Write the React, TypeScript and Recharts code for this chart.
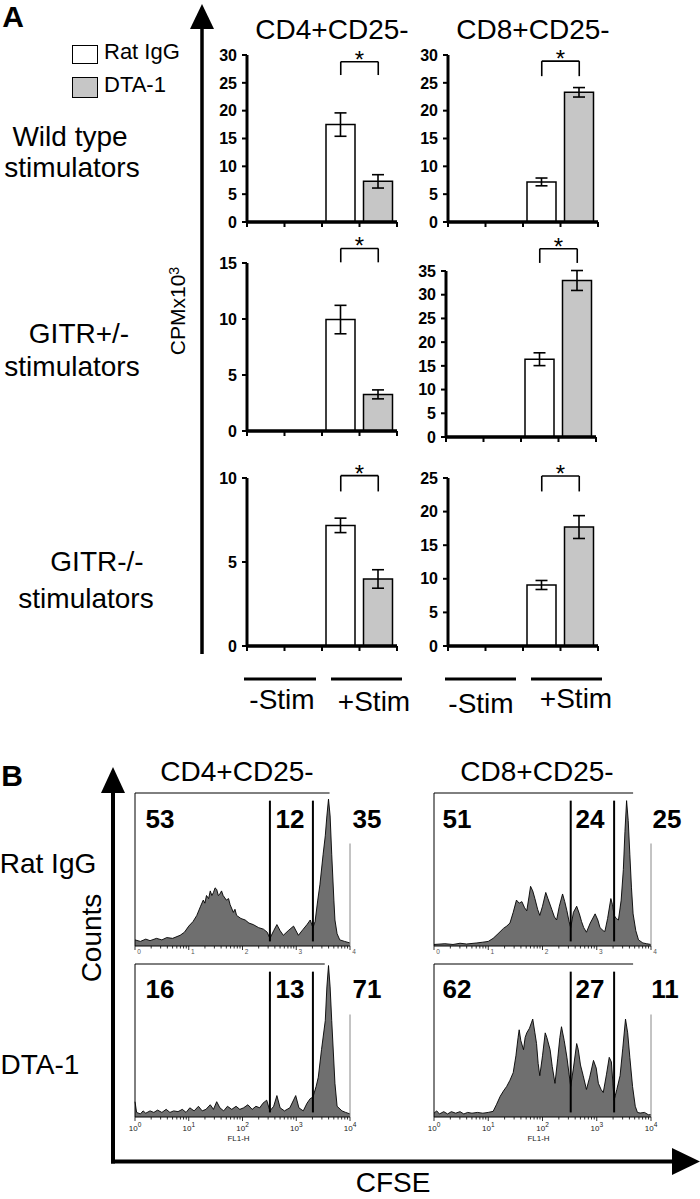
import React from 'react';
import { BarChart, Bar, XAxis, YAxis, Cell, ErrorBar, ReferenceLine, AreaChart, Area } from 'recharts';

const FONT = '"Liberation Sans", Arial, Helvetica, sans-serif';

// ---------- Panel A data ----------
const barCategories = ['-Stim Rat IgG', '-Stim DTA-1', '+Stim Rat IgG', '+Stim DTA-1'];
const barTreatment = ['Rat IgG', 'DTA-1', 'Rat IgG', 'DTA-1'];

const cd4WildMean = [0, 0, 17.5, 7.3];
const cd4WildErr = [0, 0, 2.1, 1.2];
const cd8WildMean = [0, 0, 7.2, 23.3];
const cd8WildErr = [0, 0, 0.7, 0.85];
const cd4HetMean = [0, 0, 9.95, 3.27];
const cd4HetErr = [0, 0, 1.27, 0.4];
const cd8HetMean = [0, 0, 16.4, 33.0];
const cd8HetErr = [0, 0, 1.35, 2.1];
const cd4KoMean = [0, 0, 7.18, 3.99];
const cd4KoErr = [0, 0, 0.43, 0.55];
const cd8KoMean = [0, 0, 9.08, 17.7];
const cd8KoErr = [0, 0, 0.67, 1.7];

const ticks30 = [0, 5, 10, 15, 20, 25, 30];
const ticks15 = [0, 5, 10, 15];
const ticks35 = [0, 5, 10, 15, 20, 25, 30, 35];
const ticks10 = [0, 5, 10];
const ticks25 = [0, 5, 10, 15, 20, 25];

// significance bracket [top, leg end] in CPM x10^3
const cd4WildBracket = [28.8, 26.4];
const cd8WildBracket = [28.9, 26.2];
const cd4HetBracket = [16.3, 15.06];
const cd8HetBracket = [39.7, 36.7];
const cd4KoBracket = [10.14, 9.2];
const cd8KoBracket = [25.3, 23.0];

// ---------- Panel B data (log10 FL1-H vs relative counts) ----------
const cd4RatLog = [0, 0.1, 0.2, 0.28, 0.4, 0.5, 0.59, 0.7, 0.84, 0.92, 1.0, 1.08, 1.15, 1.22, 1.27, 1.3, 1.33, 1.37, 1.4, 1.43, 1.46, 1.49, 1.52, 1.55, 1.58, 1.61, 1.64, 1.7, 1.74, 1.77, 1.83, 1.86, 1.89, 1.97, 2.05, 2.12, 2.2, 2.3, 2.39, 2.46, 2.51, 2.58, 2.64, 2.7, 2.76, 2.85, 2.95, 3.04, 3.13, 3.2, 3.26, 3.31, 3.35, 3.4, 3.44, 3.5, 3.54, 3.57, 3.6, 3.63, 3.66, 3.7, 3.72, 3.76, 3.81, 3.9, 4.0];
const cd4RatCounts = [4, 3, 4.5, 3.5, 5, 4, 5.5, 5, 7, 9, 13, 16, 20, 26, 30, 28, 33, 31, 36, 33, 35, 38, 37, 33, 34, 36, 33, 30, 31, 27, 22, 24, 20, 18, 17, 15, 14, 12, 11, 9, 5, 10, 14, 10, 7, 10, 13, 7, 11, 14, 17, 12, 16, 30, 40, 60, 72, 85, 96, 85, 60, 30, 17, 8, 4, 3, 2];

const cd8RatLog = [0, 0.2, 0.35, 0.48, 0.6, 0.79, 0.9, 1.0, 1.09, 1.18, 1.28, 1.34, 1.4, 1.46, 1.52, 1.57, 1.62, 1.67, 1.71, 1.75, 1.78, 1.82, 1.86, 1.91, 1.95, 2.0, 2.06, 2.1, 2.17, 2.22, 2.26, 2.31, 2.37, 2.41, 2.45, 2.49, 2.52, 2.57, 2.63, 2.68, 2.72, 2.76, 2.81, 2.88, 2.97, 3.02, 3.06, 3.12, 3.15, 3.2, 3.26, 3.29, 3.32, 3.36, 3.4, 3.45, 3.49, 3.52, 3.55, 3.58, 3.61, 3.64, 3.67, 3.72, 3.77, 3.85, 3.92, 4.0];
const cd8RatCounts = [1, 1.5, 1, 1.8, 1.3, 2, 2.5, 3, 5, 8, 11.5, 13, 15, 22, 30, 28, 29, 25, 23, 32, 39, 36, 31, 24, 20, 26, 35, 31, 24, 19, 17, 26, 34, 29, 23, 16, 12, 22, 26, 21, 16, 12, 9, 15, 21, 17, 12, 10, 9.5, 18, 31, 27, 20, 18, 17, 30, 50, 75, 95, 82, 60, 38, 21, 10, 4, 2, 1.5, 1];

const cd4DtaLog = [0, 0.03, 0.1, 0.15, 0.2, 0.28, 0.35, 0.42, 0.5, 0.58, 0.65, 0.72, 0.8, 0.88, 0.95, 1.02, 1.1, 1.18, 1.25, 1.32, 1.4, 1.46, 1.52, 1.58, 1.65, 1.72, 1.8, 1.88, 1.95, 2.02, 2.1, 2.18, 2.25, 2.32, 2.38, 2.45, 2.51, 2.58, 2.64, 2.7, 2.78, 2.88, 2.99, 3.05, 3.13, 3.2, 3.26, 3.31, 3.37, 3.41, 3.47, 3.54, 3.57, 3.6, 3.63, 3.66, 3.72, 3.76, 3.85, 3.92, 4.0];
const cd4DtaCounts = [10, 3, 2, 4, 2.5, 4, 3, 4.5, 3, 5, 3, 4, 3.5, 5, 3, 6, 4, 7, 4, 5, 8, 5, 10, 6, 4, 7, 5, 7, 5, 6, 8, 5, 7, 6, 9, 11, 4, 7, 14, 6, 4, 6, 14, 6, 4, 9, 12, 13, 20, 26, 44, 63, 85, 99, 85, 63, 22, 7, 4, 3, 2];

const cd8DtaLog = [0, 0.05, 0.1, 0.18, 0.25, 0.32, 0.4, 0.48, 0.55, 0.62, 0.7, 0.8, 0.9, 1.0, 1.09, 1.15, 1.22, 1.28, 1.34, 1.4, 1.46, 1.51, 1.55, 1.57, 1.6, 1.65, 1.68, 1.71, 1.76, 1.8, 1.82, 1.86, 1.89, 1.92, 1.95, 2.0, 2.05, 2.08, 2.14, 2.18, 2.23, 2.28, 2.32, 2.35, 2.4, 2.45, 2.49, 2.52, 2.57, 2.63, 2.66, 2.7, 2.75, 2.81, 2.87, 2.94, 2.99, 3.03, 3.08, 3.12, 3.18, 3.23, 3.27, 3.32, 3.37, 3.43, 3.48, 3.53, 3.57, 3.61, 3.66, 3.71, 3.75, 3.8, 3.88, 3.95, 4.0];
const cd8DtaCounts = [2.5, 4, 2, 3.5, 2, 3.5, 2.5, 3.5, 2, 3, 2.5, 3, 2.5, 3, 3.7, 8, 13.5, 17, 20, 24, 29, 40, 52, 57, 50, 44, 52, 55, 58, 62, 64, 55, 48, 35, 27, 40, 55, 52, 44, 33, 22, 38, 52, 59, 50, 39, 28, 20, 32, 48, 44, 34, 27, 18, 26, 37, 32, 22, 18, 16, 28, 39, 36, 11, 18, 27, 45, 64, 55, 39, 20, 7, 3, 2.6, 3, 1.5, 1.5];

const cd4Gates = [2.51, 3.31];
const cd8Gates = [2.52, 3.32];

const histDecades = [0, 1, 2, 3, 4];
const histMinorOffsets = [0.301, 0.477, 0.602, 0.699, 0.778, 0.845, 0.903, 0.954];
const histXTicks = histDecades.flatMap((d) => (d < 4 ? [d, ...histMinorOffsets.map((m) => d + m)] : [d]));
const histYTicks = [0, 6.5, 13, 19.5, 26, 32.5, 39, 45.5, 52, 58.5, 65, 71.5, 78, 84.5, 91, 97.5];

// ---------- helpers ----------
function Txt({ x, y, size = 28, bold = false, rotate = 0, children }: any) {
  return (
    <div
      style={{
        position: 'absolute',
        left: x,
        top: y,
        transform: `translate(-50%, -50%) rotate(${rotate}deg)`,
        fontSize: size,
        fontWeight: bold ? 700 : 400,
        lineHeight: 1,
        whiteSpace: 'nowrap',
        fontFamily: FONT,
        color: '#000',
        pointerEvents: 'none',
      }}
    >
      {children}
    </div>
  );
}

const BAR_PW = 150;

function barXTick(props: any) {
  const { x, y, index } = props;
  const half = BAR_PW / 8;
  return (
    <g>
      <line x1={x - half} y1={y} x2={x - half} y2={y + 5} stroke="#000" strokeWidth={2} />
      {index === barCategories.length - 1 && (
        <line x1={x + half} y1={y} x2={x + half} y2={y + 5} stroke="#000" strokeWidth={2} />
      )}
    </g>
  );
}

function BarPanel({ means, errs, max, ticks, bracket, left, top, plotH }: any) {
  const data = barCategories.map((c, i) => ({ cat: c, v: means[i], e: errs[i], t: barTreatment[i] }));
  const YW = 45;
  const MT = 40;
  const XH = 10;
  const c1 = barCategories[2];
  const c2 = barCategories[3];
  return (
    <div style={{ position: 'absolute', left: left - YW, top: top - MT, width: YW + BAR_PW + 4, height: MT + plotH + XH }}>
      <BarChart
        width={YW + BAR_PW + 4}
        height={MT + plotH + XH}
        data={data}
        margin={{ top: MT, right: 4, bottom: 0, left: 0 }}
        barSize={29}
      >
        <XAxis
          dataKey="cat"
          interval={0}
          tickSize={0}
          tickMargin={0}
          tickLine={false}
          tick={barXTick}
          height={XH}
          axisLine={{ stroke: '#000', strokeWidth: 3 }}
        />
        <YAxis
          type="number"
          domain={[0, max]}
          ticks={ticks}
          interval={0}
          width={YW}
          tickSize={5}
          tickMargin={5}
          allowDataOverflow
          axisLine={{ stroke: '#000', strokeWidth: 3 }}
          tickLine={{ stroke: '#000', strokeWidth: 2 }}
          tick={{ fill: '#000', fontSize: 16, fontWeight: 700, fontFamily: FONT }}
        />
        <Bar dataKey="v" stroke="#000" strokeWidth={1.5} isAnimationActive={false}>
          {data.map((d, i) => (
            <Cell key={i} fill={d.t === 'Rat IgG' ? '#ffffff' : '#c6c6c6'} />
          ))}
          <ErrorBar dataKey="e" width={6} stroke="#000" strokeWidth={1.6} direction="y" />
        </Bar>
        <ReferenceLine y={0} ifOverflow="visible" stroke="#000" strokeWidth={3} />
        <ReferenceLine
          ifOverflow="visible"
          segment={[{ x: c1, y: bracket[0] }, { x: c2, y: bracket[0] }]}
          stroke="#000"
          strokeWidth={1.6}
          label={{ value: '*', position: 'top', offset: -6, fill: '#000', fontSize: 24, fontFamily: FONT }}
        />
        <ReferenceLine
          ifOverflow="visible"
          segment={[{ x: c1, y: bracket[0] }, { x: c1, y: bracket[1] }]}
          stroke="#000"
          strokeWidth={1.6}
        />
        <ReferenceLine
          ifOverflow="visible"
          segment={[{ x: c2, y: bracket[0] }, { x: c2, y: bracket[1] }]}
          stroke="#000"
          strokeWidth={1.6}
        />
      </BarChart>
    </div>
  );
}

function makeHistTick(full: boolean) {
  return (props: any) => {
    const { x, y, payload } = props;
    const v = payload.value;
    const major = histDecades.includes(v);
    return (
      <g>
        <line x1={x} y1={y} x2={x} y2={y + (major ? 4 : 2.5)} stroke="#000" strokeWidth={0.8} />
        {major && full && (
          <text x={x} y={y + 14} textAnchor="middle" fontSize={8} fill="#222" fontFamily={FONT}>
            10
            <tspan dy={-4} fontSize={6.5}>
              {v}
            </tspan>
          </text>
        )}
        {major && !full && (
          <text x={x + 4} y={y + 8} textAnchor="middle" fontSize={6.5} fill="#555" fontFamily={FONT}>
            {v}
          </text>
        )}
        {full && v === 2 && (
          <text x={x - 4} y={y + 24} textAnchor="middle" fontSize={8} fill="#222" fontFamily={FONT}>
            FL1-H
          </text>
        )}
      </g>
    );
  };
}

function Histogram({ logs, counts, gates, frameEnd, left, top, plotW, full }: any) {
  const data = logs.map((x: number, i: number) => ({ x, c: counts[i] }));
  const YW = 14;
  const MT = 8;
  const PH = 153;
  const XH = 30;
  return (
    <div style={{ position: 'absolute', left: left - YW, top: top - MT }}>
      <AreaChart width={YW + plotW + 12} height={MT + PH + XH} data={data} margin={{ top: MT, right: 12, bottom: 0, left: 0 }}>
        <XAxis
          type="number"
          dataKey="x"
          domain={[0, 4]}
          ticks={histXTicks}
          interval={0}
          tickSize={0}
          tickMargin={0}
          tickLine={false}
          tick={makeHistTick(full)}
          height={XH}
          axisLine={{ stroke: '#000', strokeWidth: 1 }}
        />
        <YAxis
          type="number"
          domain={[0, 100]}
          ticks={histYTicks}
          interval={0}
          width={YW}
          tick={false}
          tickSize={3}
          axisLine={{ stroke: '#000', strokeWidth: 1 }}
          tickLine={{ stroke: '#000', strokeWidth: 0.8 }}
        />
        <Area
          type="linear"
          dataKey="c"
          stroke="#000"
          strokeWidth={0.9}
          fill="#6f6f6f"
          fillOpacity={1}
          isAnimationActive={false}
        />
        <ReferenceLine segment={[{ x: 0, y: 100 }, { x: frameEnd, y: 100 }]} stroke="#000" strokeWidth={1} />
        <ReferenceLine segment={[{ x: 4, y: 0 }, { x: 4, y: 67 }]} stroke="#888" strokeWidth={1} />
        {gates.map((g: number) => (
          <ReferenceLine key={g} segment={[{ x: g, y: 3 }, { x: g, y: 95 }]} stroke="#000" strokeWidth={2} />
        ))}
      </AreaChart>
    </div>
  );
}

export default function App() {
  return (
    <div
      style={{
        position: 'absolute',
        left: 0,
        top: 0,
        width: 700,
        height: 1199,
        background: '#fff',
        overflow: 'hidden',
        fontFamily: FONT,
      }}
    >
      <svg width={700} height={1199} style={{ position: 'absolute', left: 0, top: 0 }}>
        {/* Panel A arrow */}
        <line x1={202} y1={24} x2={202} y2={654} stroke="#000" strokeWidth={3.5} />
        <polygon points="190,29 214,29 202,4" fill="#000" />
        {/* Stim group bars */}
        <line x1={244} y1={679} x2={316} y2={679} stroke="#000" strokeWidth={3} />
        <line x1={331} y1={679} x2={402} y2={679} stroke="#000" strokeWidth={3} />
        <line x1={445} y1={679} x2={516} y2={679} stroke="#000" strokeWidth={3} />
        <line x1={531} y1={679} x2={602} y2={679} stroke="#000" strokeWidth={3} />
        {/* Panel B axes arrows */}
        <line x1={113} y1={788} x2={113} y2={1163.5} stroke="#000" strokeWidth={4} />
        <line x1={111} y1={1161.5} x2={676} y2={1161.5} stroke="#000" strokeWidth={4} />
        <polygon points="101,793 125,793 113,767" fill="#000" />
        <polygon points="672,1148 672,1175 700,1161.5" fill="#000" />
      </svg>

      {/* Panel labels */}
      <Txt x={13} y={17} size={30} bold>A</Txt>
      <Txt x={12} y={776} size={30} bold>B</Txt>

      {/* Legend */}
      <div style={{ position: 'absolute', left: 72, top: 45, width: 24, height: 17, border: '1.5px solid #000', background: '#fff' }} />
      <div style={{ position: 'absolute', left: 72, top: 77, width: 24, height: 19, border: '1.5px solid #000', background: '#c6c6c6' }} />
      <div style={{ position: 'absolute', left: 104, top: 52, transform: 'translateY(-50%)', fontSize: 22, lineHeight: 1, whiteSpace: 'nowrap' }}>Rat IgG</div>
      <div style={{ position: 'absolute', left: 104, top: 85, transform: 'translateY(-50%)', fontSize: 22, lineHeight: 1, whiteSpace: 'nowrap' }}>DTA-1</div>

      {/* Titles A */}
      <Txt x={332} y={30}>CD4+CD25-</Txt>
      <Txt x={533} y={30}>CD8+CD25-</Txt>

      {/* Row labels */}
      <Txt x={70} y={137}>Wild type</Txt>
      <Txt x={72} y={168}>stimulators</Txt>
      <Txt x={79} y={334}>GITR+/-</Txt>
      <Txt x={72} y={367}>stimulators</Txt>
      <Txt x={97} y={562}>GITR-/-</Txt>
      <Txt x={86} y={599}>stimulators</Txt>

      <Txt x={177} y={311} size={21} rotate={-90}>
        CPMx10<span style={{ fontSize: 14, verticalAlign: 'top', lineHeight: 1 }}>3</span>
      </Txt>

      <BarPanel means={cd4WildMean} errs={cd4WildErr} max={30} ticks={ticks30} bracket={cd4WildBracket} left={247} top={55} plotH={167} />
      <BarPanel means={cd8WildMean} errs={cd8WildErr} max={30} ticks={ticks30} bracket={cd8WildBracket} left={448} top={55} plotH={167} />
      <BarPanel means={cd4HetMean} errs={cd4HetErr} max={15} ticks={ticks15} bracket={cd4HetBracket} left={247} top={263} plotH={168} />
      <BarPanel means={cd8HetMean} errs={cd8HetErr} max={35} ticks={ticks35} bracket={cd8HetBracket} left={446} top={271} plotH={166} />
      <BarPanel means={cd4KoMean} errs={cd4KoErr} max={10} ticks={ticks10} bracket={cd4KoBracket} left={247} top={478} plotH={168} />
      <BarPanel means={cd8KoMean} errs={cd8KoErr} max={25} ticks={ticks25} bracket={cd8KoBracket} left={448} top={478} plotH={168} />

      {/* Stim labels */}
      <Txt x={282} y={700}>-Stim</Txt>
      <Txt x={374} y={702}>+Stim</Txt>
      <Txt x={481} y={704}>-Stim</Txt>
      <Txt x={576} y={699}>+Stim</Txt>

      {/* Panel B */}
      <Txt x={237} y={772}>CD4+CD25-</Txt>
      <Txt x={537} y={772}>CD8+CD25-</Txt>
      <Txt x={48} y={864}>Rat IgG</Txt>
      <Txt x={40} y={1065}>DTA-1</Txt>
      <Txt x={92} y={938} rotate={-90}>Counts</Txt>
      <Txt x={393} y={1183}>CFSE</Txt>

      <Histogram logs={cd4RatLog} counts={cd4RatCounts} gates={cd4Gates} frameEnd={3.62} left={135} top={793} plotW={215} full={false} />
      <Histogram logs={cd8RatLog} counts={cd8RatCounts} gates={cd8Gates} frameEnd={3.67} left={434} top={793} plotW={217} full={false} />
      <Histogram logs={cd4DtaLog} counts={cd4DtaCounts} gates={cd4Gates} frameEnd={3.53} left={135} top={964} plotW={215} full />
      <Histogram logs={cd8DtaLog} counts={cd8DtaCounts} gates={cd8Gates} frameEnd={3.67} left={434} top={964} plotW={217} full />

      <Txt x={160} y={819} size={26} bold>53</Txt>
      <Txt x={290} y={819} size={26} bold>12</Txt>
      <Txt x={367} y={819} size={26} bold>35</Txt>
      <Txt x={457} y={819} size={26} bold>51</Txt>
      <Txt x={590} y={819} size={26} bold>24</Txt>
      <Txt x={667} y={819} size={26} bold>25</Txt>
      <Txt x={160} y={989} size={26} bold>16</Txt>
      <Txt x={290} y={989} size={26} bold>13</Txt>
      <Txt x={367} y={989} size={26} bold>71</Txt>
      <Txt x={457} y={989} size={26} bold>62</Txt>
      <Txt x={590} y={989} size={26} bold>27</Txt>
      <Txt x={665} y={989} size={26} bold>11</Txt>
    </div>
  );
}
